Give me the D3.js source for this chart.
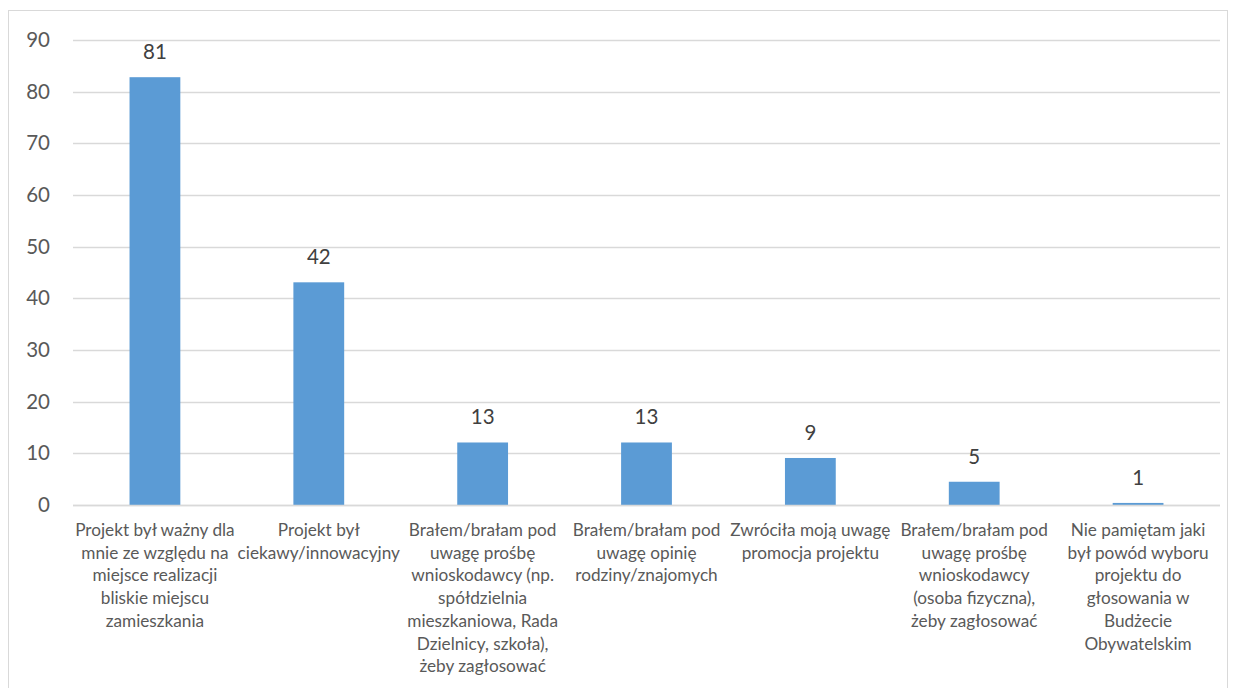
<!DOCTYPE html>
<html>
<head>
<meta charset="utf-8">
<script src="https://cdn.jsdelivr.net/npm/d3@7"></script>
<style>
  html, body { margin: 0; padding: 0; background: #fff; }
  svg { display: block; font-family: Lato, "Open Sans", sans-serif; }
</style>
</head>
<body>
<svg id="chart" width="1236" height="688"></svg>
<script>
const categories = [
  "Projekt był ważny dla\nmnie ze względu na\nmiejsce realizacji\nbliskie miejscu\nzamieszkania",
  "Projekt był\nciekawy/innowacyjny",
  "Brałem/brałam pod\nuwagę prośbę\nwnioskodawcy (np.\nspółdzielnia\nmieszkaniowa, Rada\nDzielnicy, szkoła),\nżeby zagłosować",
  "Brałem/brałam pod\nuwagę opinię\nrodziny/znajomych",
  "Zwróciła moją uwagę\npromocja projektu",
  "Brałem/brałam pod\nuwagę prośbę\nwnioskodawcy\n(osoba fizyczna),\nżeby zagłosować",
  "Nie pamiętam jaki\nbył powód wyboru\nprojektu do\ngłosowania w\nBudżecie\nObywatelskim"
];
const barValues = [82.8, 43.1, 12.1, 12.1, 9.1, 4.5, 0.4];
const dataLabels = ["81", "42", "13", "13", "9", "5", "1"];
const yTicks = [0, 10, 20, 30, 40, 50, 60, 70, 80, 90];

const svg = d3.select("#chart");
const W = 1236, H = 688;
const plot = { left: 73, right: 1220, top: 40, bottom: 505 };

// outer border
svg.append("rect")
  .attr("x", 8.5).attr("y", 10.5)
  .attr("width", W - 17).attr("height", H - 10)
  .attr("fill", "#fff").attr("stroke", "#d9d9d9").attr("stroke-width", 1);

const x = d3.scaleBand()
  .domain(categories.map((d, i) => i))
  .range([plot.left, plot.right])
  .paddingInner(0.69).paddingOuter(0.345);

const y = d3.scaleLinear().domain([0, 90]).range([plot.bottom, plot.top]);

// gridlines
svg.append("g").selectAll("line")
  .data(yTicks)
  .join("line")
  .attr("x1", plot.left).attr("x2", plot.right)
  .attr("y1", d => Math.round(y(d)) + 0.5).attr("y2", d => Math.round(y(d)) + 0.5)
  .attr("stroke", "#d9d9d9").attr("stroke-width", 1.3);

// y axis labels
const yAxis = d3.axisLeft(y).tickValues(yTicks).tickSize(0).tickPadding(0);
const ya = svg.append("g").attr("transform", `translate(50,0)`).call(yAxis);
ya.select(".domain").remove();
ya.selectAll("text")
  .attr("fill", "#595959")
  .style("font-size", "20.5px")
  .style("font-family", "Lato, 'Open Sans', sans-serif");

// bars
svg.append("g").selectAll("rect")
  .data(barValues)
  .join("rect")
  .attr("x", (d, i) => x(i))
  .attr("width", x.bandwidth())
  .attr("y", d => y(d))
  .attr("height", d => y(0) - y(d))
  .attr("fill", "#5b9bd5");

// baseline axis
svg.append("line")
  .attr("x1", plot.left).attr("x2", plot.right)
  .attr("y1", y(0) + 0.5).attr("y2", y(0) + 0.5)
  .attr("stroke", "#d9d9d9").attr("stroke-width", 1.3);

// data labels
svg.append("g").selectAll("text")
  .data(barValues)
  .join("text")
  .attr("x", (d, i) => x(i) + x.bandwidth() / 2)
  .attr("y", d => y(d) - 18)
  .attr("text-anchor", "middle")
  .attr("fill", "#404040")
  .style("font-size", "20.5px")
  .text((d, i) => dataLabels[i]);

// category labels
const cat = svg.append("g").selectAll("text")
  .data(categories)
  .join("text")
  .attr("x", (d, i) => x(i) + x.bandwidth() / 2)
  .attr("y", 536)
  .attr("text-anchor", "middle")
  .attr("fill", "#595959")
  .style("font-size", "17.2px");
cat.each(function(d, i) {
  const t = d3.select(this);
  d.split("\n").forEach((line, j) => {
    t.append("tspan")
      .attr("x", x(i) + x.bandwidth() / 2)
      .attr("dy", j === 0 ? 0 : 22.7)
      .text(line);
  });
});
</script>
</body>
</html>
